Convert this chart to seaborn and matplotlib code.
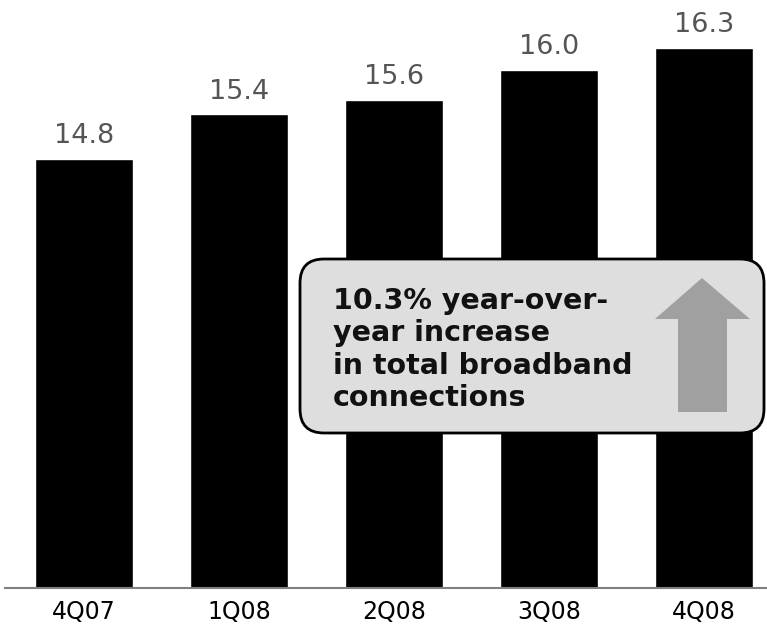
import matplotlib
matplotlib.use("Agg")
import matplotlib.pyplot as plt
from matplotlib.patches import FancyBboxPatch, Polygon
import seaborn as sns
import pandas as pd

quarters = ["4Q07", "1Q08", "2Q08", "3Q08", "4Q08"]
connections = [14.8, 15.4, 15.6, 16.0, 16.3]
value_labels = ["14.8", "15.4", "15.6", "16.0", "16.3"]
callout = "10.3% year-over-\nyear increase\nin total broadband\nconnections"

df = pd.DataFrame({"quarter": quarters, "connections": connections})

sns.set_theme(style="white")
plt.rcParams["font.family"] = ["DejaVu Sans"]

W, H = 767, 625
fig = plt.figure(figsize=(W / 100, H / 100), dpi=100)
ax = fig.add_axes([5 / W, 37 / H, 1 - 5 / W, 1 - 37 / H])

sns.barplot(data=df, x="quarter", y="connections", color="black",
            saturation=1, width=0.63, ax=ax)

ax.set_xlim(-0.51, 4.406)
ax.set_ylim(9, 9 + 588 / 74)
ax.set_xlabel("")
ax.set_ylabel("")
ax.set_yticks([])
for s in ["top", "right", "left"]:
    ax.spines[s].set_visible(False)
ax.spines["bottom"].set_color("#808080")
ax.spines["bottom"].set_linewidth(1.5)
ax.tick_params(axis="x", length=0, pad=9, labelsize=17, labelcolor="black")

for i, (v, lab) in enumerate(zip(connections, value_labels)):
    ax.annotate(lab, (i, v), xytext=(0, 7), textcoords="offset points",
                ha="center", va="bottom", fontsize=19.5, color="#555555")

# overlay for the callout box and arrow, in pixel units
ov = fig.add_axes([0, 0, 1, 1])
ov.set_xlim(0, W)
ov.set_ylim(H, 0)
ov.axis("off")
ov.patch.set_alpha(0)

box = FancyBboxPatch((300, 259), 464, 174,
                     boxstyle="round,pad=0,rounding_size=24",
                     facecolor="#dedede", edgecolor="black", linewidth=2)
ov.add_patch(box)

arrow = Polygon([(702, 278), (750, 319), (727, 319), (727, 412),
                 (678, 412), (678, 319), (655, 319)],
                closed=True, facecolor="#a0a0a0", edgecolor="none")
ov.add_patch(arrow)

ov.text(333, 287, callout, ha="left", va="top", fontsize=20.5,
        fontweight="bold", color="#111111", linespacing=1.2)

fig.savefig("out.png", dpi=100)
